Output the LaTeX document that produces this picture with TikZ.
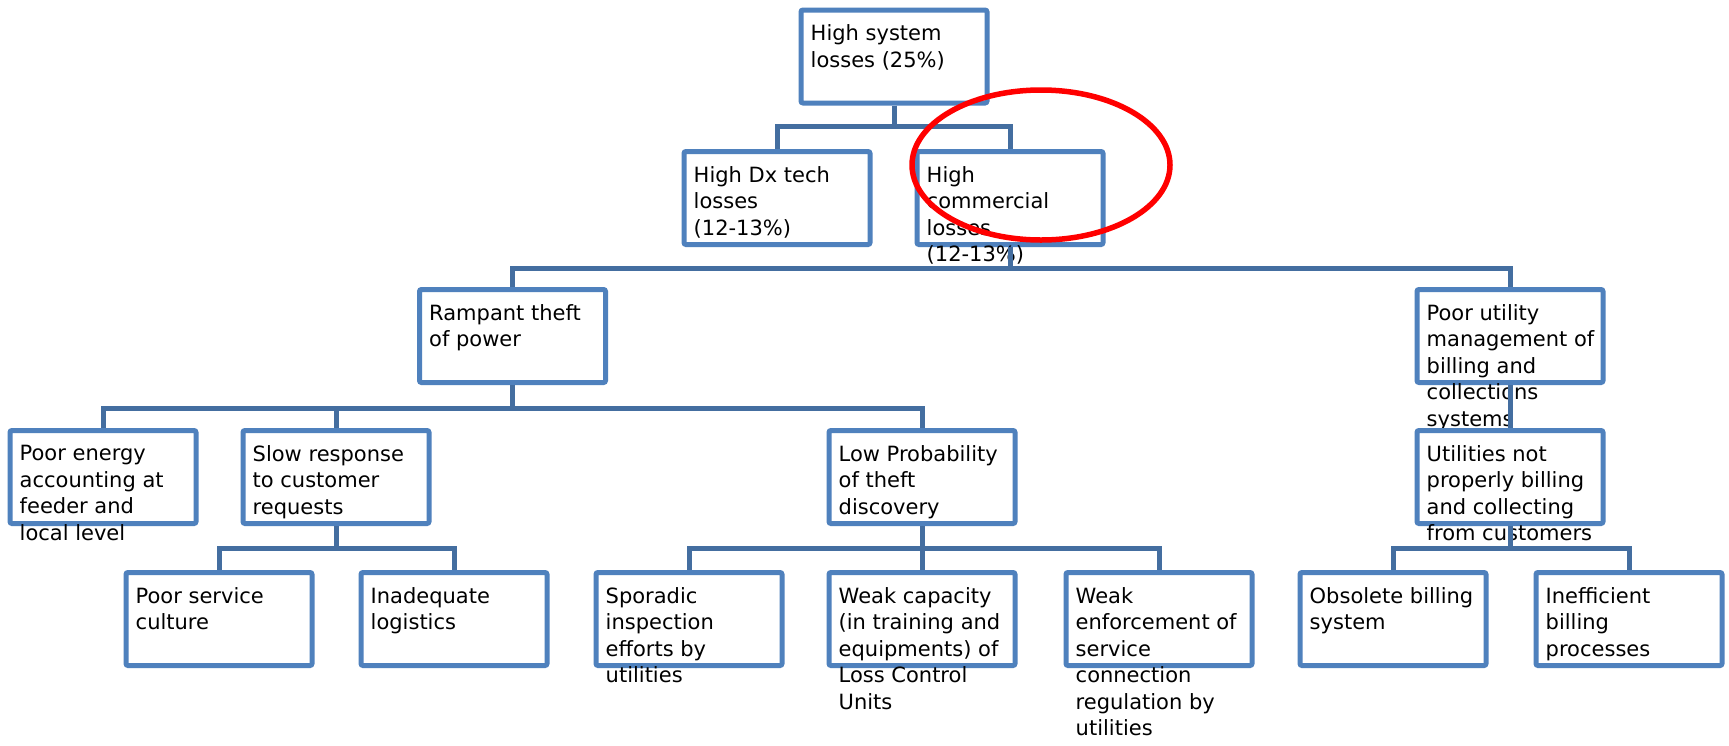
\documentclass[tikz,border=0pt]{standalone}
\usepackage{fontspec}
\setmainfont{DejaVu Sans}
\usetikzlibrary{positioning}
\definecolor{boxblue}{RGB}{79,129,189}
\definecolor{linkblue}{RGB}{68,110,160}
\begin{document}
\begin{tikzpicture}[x=1pt,y=-1pt]
    \tikzstyle{box} = [draw=boxblue, line width=5pt, fill=white, rounded corners=2pt, minimum width=186pt, minimum height=93pt, inner sep=0pt]
    \tikzstyle{txt} = [align=left, inner sep=0pt, font=\fontsize{21}{26.5}\selectfont]
    \tikzstyle{link} = [draw=linkblue, line width=5pt]
    \tikzstyle{redring} = [draw=red, line width=5.5pt]
    \useasboundingbox[fill=white] (0,0) rectangle (1729,745);
    % level 0 and 1
    \node[box] (top) at (894,56.5) {};
    \node[txt, below right=17pt and 12pt of top.north west] (top-t) {High system\\losses (25\%)};
    \node[box] (dx) at (777,198) {};
    \node[txt, below right=17pt and 12pt of dx.north west] (dx-t) {High Dx tech\\losses\\(12-13\%)};
    \node[box] (com) at (1010,198) {};
    \node[txt, below right=17pt and 12pt of com.north west] (com-t) {High\\commercial\\losses\\(12-13\%)};
    % level 2
    \node[box] (theft) at (512.5,336) {};
    \node[txt, below right=17pt and 12pt of theft.north west] (theft-t) {Rampant theft\\of power};
    \node[box] (util) at (1510,336) {};
    \node[txt, below right=17pt and 12pt of util.north west] (util-t) {Poor utility\\management of\\billing and\\collections\\systems};
    % level 3
    \node[box] (energy) at (103,477) {};
    \node[txt, below right=17pt and 12pt of energy.north west] (energy-t) {Poor energy\\accounting at\\feeder and\\local level};
    \node[box] (slow) at (336,477) {};
    \node[txt, below right=17pt and 12pt of slow.north west] (slow-t) {Slow response\\to customer\\requests};
    \node[box] (lowprob) at (922,477) {};
    \node[txt, below right=17pt and 12pt of lowprob.north west] (lowprob-t) {Low Probability\\of theft\\discovery};
    \node[box] (billing) at (1510,477) {};
    \node[txt, below right=17pt and 12pt of billing.north west] (billing-t) {Utilities not\\properly billing\\and collecting\\from customers};
    % level 4
    \node[box] (culture) at (219,619) {};
    \node[txt, below right=17pt and 12pt of culture.north west] (culture-t) {Poor service\\culture};
    \node[box] (logist) at (454,619) {};
    \node[txt, below right=17pt and 12pt of logist.north west] (logist-t) {Inadequate\\logistics};
    \node[box] (sporadic) at (689,619) {};
    \node[txt, below right=17pt and 12pt of sporadic.north west] (sporadic-t) {Sporadic\\inspection\\efforts by\\utilities};
    \node[box] (capacity) at (922,619) {};
    \node[txt, below right=17pt and 12pt of capacity.north west] (capacity-t) {Weak capacity\\(in training and\\equipments) of\\Loss Control\\Units};
    \node[box] (enforce) at (1159,619) {};
    \node[txt, below right=17pt and 12pt of enforce.north west] (enforce-t) {Weak\\enforcement of\\service\\connection\\regulation by\\utilities};
    \node[box] (obsolete) at (1393,619) {};
    \node[txt, below right=17pt and 12pt of obsolete.north west] (obsolete-t) {Obsolete billing\\system};
    \node[box] (ineff) at (1629,619) {};
    \node[txt, below right=17pt and 12pt of ineff.north west] (ineff-t) {Inefficient\\billing\\processes};
    % connectors
    \draw[link] (top.south) -- ++(0,21) -| (dx.north);
    \draw[link] (top.south) -- ++(0,21) -| (com.north);
    \draw[link] (com.south) -- ++(0,21) -| (theft.north);
    \draw[link] (com.south) -- ++(0,21) -| (util.north);
    \draw[link] (theft.south) -- ++(0,23) -| (energy.north);
    \draw[link] (theft.south) -- ++(0,23) -| (slow.north);
    \draw[link] (theft.south) -- ++(0,23) -| (lowprob.north);
    \draw[link] (util.south) -- (billing.north);
    \draw[link] (slow.south) -- ++(0,22) -| (culture.north);
    \draw[link] (slow.south) -- ++(0,22) -| (logist.north);
    \draw[link] (lowprob.south) -- ++(0,22) -| (sporadic.north);
    \draw[link] (lowprob.south) -- ++(0,22) -| (capacity.north);
    \draw[link] (lowprob.south) -- ++(0,22) -| (enforce.north);
    \draw[link] (billing.south) -- ++(0,22) -| (obsolete.north);
    \draw[link] (billing.south) -- ++(0,22) -| (ineff.north);
    % red mark
    \draw[redring] (1041,165) ellipse [x radius=129, y radius=75];
\end{tikzpicture}
\end{document}
